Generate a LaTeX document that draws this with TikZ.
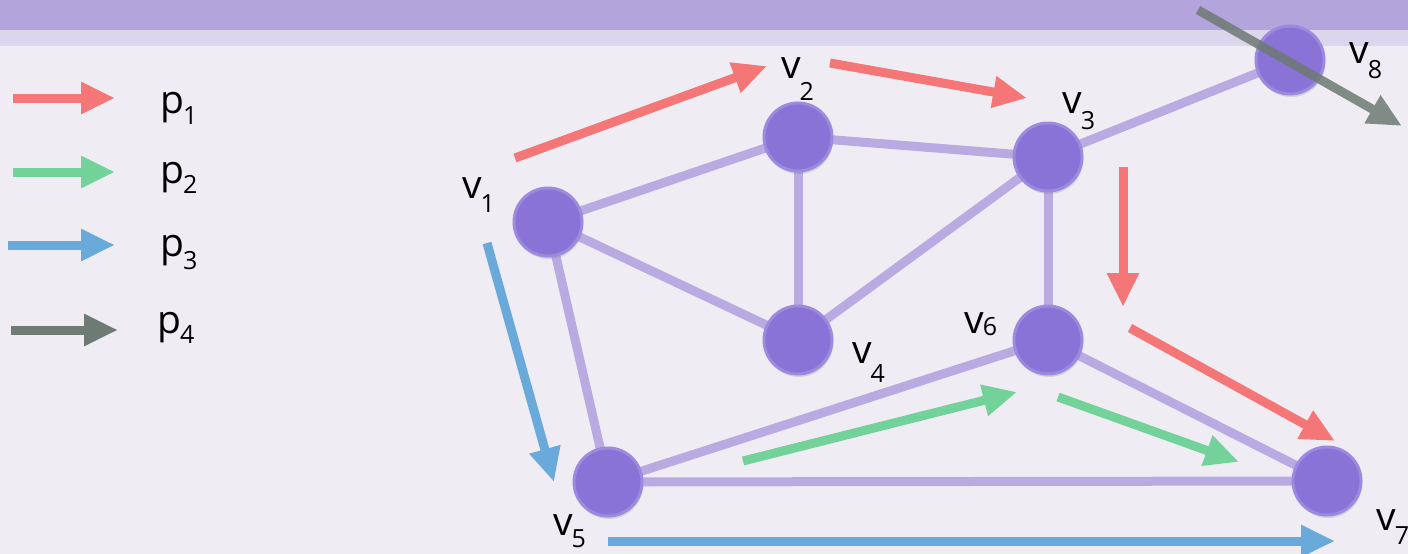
\documentclass[tikz,border=0pt]{standalone}
\usepackage{fontspec}
\setmainfont{Open Sans}
\usetikzlibrary{arrows.meta,shadows}
\definecolor{bg}{HTML}{EFEDF3}
\definecolor{band}{HTML}{B3A4DC}
\definecolor{bandlight}{HTML}{DCD6EC}
\definecolor{edgec}{HTML}{B9AAE2}
\definecolor{nodefill}{HTML}{8A73D6}
\definecolor{noderim}{HTML}{9C89E0}
\definecolor{pred}{HTML}{F47676}
\definecolor{pgreen}{HTML}{72D29A}
\definecolor{pblue}{HTML}{6AAADB}
\definecolor{pgray}{HTML}{6E7A74}
\newcommand{\lowsub}[2]{\kern-1pt\raisebox{#1}{\fontsize{25}{25}\selectfont #2}}
\tikzset{
  vert/.style={circle,minimum size=68pt,inner sep=0pt,fill=nodefill,draw=noderim,line width=3pt,
    drop shadow={opacity=0.25,shadow xshift=1pt,shadow yshift=-3pt}},
  edg/.style={draw=edgec,line width=9pt},
  parrow/.style={line width=9pt,-{Triangle[length=34pt,width=30pt]}},
  lbl/.style={font=\fontsize{39}{44}\selectfont,inner sep=0pt,anchor=base west}
}
\begin{document}
\begin{tikzpicture}[x=1pt,y=-1pt]
\useasboundingbox (0,0) rectangle (1408,554);
\fill[bg] (0,0) rectangle (1408,554);
\fill[bandlight] (0,28) rectangle (1408,46);
\fill[band] (0,0) rectangle (1408,30);

\coordinate (c1) at (548,222);
\coordinate (c2) at (798,137);
\coordinate (c3) at (1048,157);
\coordinate (c4) at (798,340);
\coordinate (c5) at (608,482);
\coordinate (c6) at (1048,340);
\coordinate (c7) at (1327,481);
\coordinate (c8) at (1290,60);

\draw[edg] (c1) -- (c2);
\draw[edg] (c1) -- (c4);
\draw[edg] (c1) -- (c5);
\draw[edg] (c2) -- (c3);
\draw[edg] (c2) -- (c4);
\draw[edg] (c3) -- (c4);
\draw[edg] (c3) -- (c6);
\draw[edg] (c3) -- (c8);
\draw[edg] (c5) -- (c6);
\draw[edg] (c5) -- (c7);
\draw[edg] (c6) -- (c7);

\node[vert] (v1) at (c1) {};
\node[vert] (v2) at (c2) {};
\node[vert] (v3) at (c3) {};
\node[vert] (v4) at (c4) {};
\node[vert] (v5) at (c5) {};
\node[vert] (v6) at (c6) {};
\node[vert] (v7) at (c7) {};
\node[vert] (v8) at (c8) {};

\node[lbl] (l1) at (462,198) {v\lowsub{-14pt}{1}};
\node[lbl] (l2) at (781,78) {v\lowsub{-22pt}{2}};
\node[lbl] (l3) at (1062,113) {v\lowsub{-16pt}{3}};
\node[lbl] (l4) at (852,363) {v\lowsub{-19pt}{4}};
\node[lbl] (l6) at (964,333) {v\lowsub{-2pt}{6}};
\node[lbl] (l5) at (553,535) {v\lowsub{-12pt}{5}};
\node[lbl] (l7) at (1376,530) {v\lowsub{-14pt}{7}};
\node[lbl] (l8) at (1349,63) {v\lowsub{-15pt}{8}};

% paths
\coordinate (a1s) at (515,158); \coordinate (a1e) at (767,66);
\coordinate (a2s) at (830,63); \coordinate (a2e) at (1027,98);
\coordinate (a3s) at (1123,167); \coordinate (a3e) at (1123,307);
\coordinate (a4s) at (1130,328); \coordinate (a4e) at (1335,441);
\draw[parrow,pred] (a1s) -- (a1e);
\draw[parrow,pred] (a2s) -- (a2e);
\draw[parrow,pred] (a3s) -- (a3e);
\draw[parrow,pred] (a4s) -- (a4e);

\coordinate (b1s) at (743,461); \coordinate (b1e) at (1017,392);
\coordinate (b2s) at (1058,397); \coordinate (b2e) at (1239,462);
\draw[parrow,pgreen] (b1s) -- (b1e);
\draw[parrow,pgreen] (b2s) -- (b2e);

\coordinate (d1s) at (487,243); \coordinate (d1e) at (554,482);
\coordinate (d2s) at (608,541); \coordinate (d2e) at (1335,541);
\draw[parrow,pblue] (d1s) -- (d1e);
\draw[parrow,pblue] (d2s) -- (d2e);

\coordinate (g1s) at (1198,10); \coordinate (g1e) at (1402,126);
\begin{scope}[transparency group,opacity=0.85]
\draw[parrow,pgray] (g1s) -- (g1e);
\end{scope}

% legend
\coordinate (k1s) at (13,98); \coordinate (k1e) at (115,98);
\coordinate (k2s) at (13,172); \coordinate (k2e) at (115,172);
\coordinate (k3s) at (8,245); \coordinate (k3e) at (115,245);
\coordinate (k4s) at (11,330); \coordinate (k4e) at (118,330);
\draw[parrow,pred] (k1s) -- (k1e);
\draw[parrow,pgreen] (k2s) -- (k2e);
\draw[parrow,pblue] (k3s) -- (k3e);
\draw[parrow,pgray] (k4s) -- (k4e);
\node[lbl] (q1) at (160,113) {p\lowsub{-11pt}{1}};
\node[lbl] (q2) at (160,183) {p\lowsub{-10pt}{2}};
\node[lbl] (q3) at (160,256) {p\lowsub{-13pt}{3}};
\node[lbl] (q4) at (157,333) {p\lowsub{-10pt}{4}};
\end{tikzpicture}
\end{document}
